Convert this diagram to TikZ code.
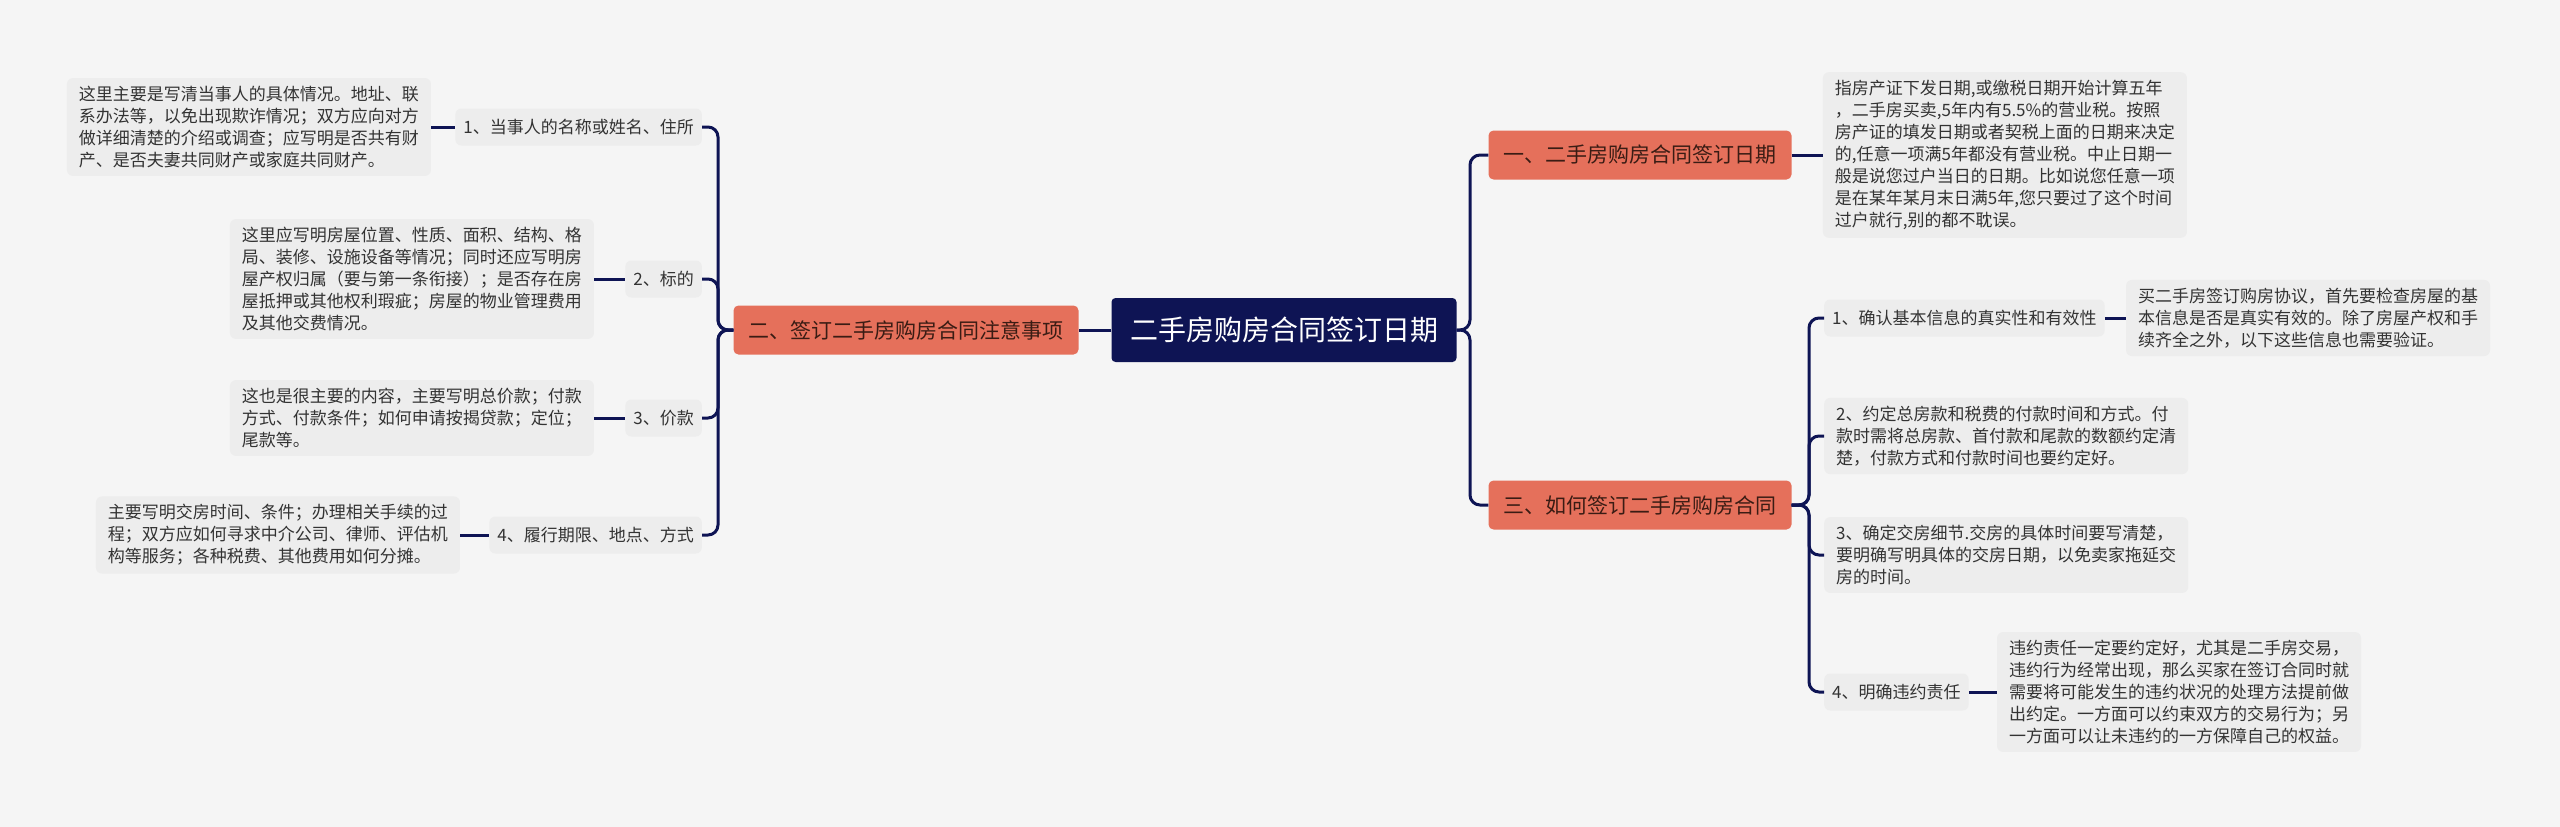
\documentclass[tikz,border=0pt]{standalone}
\usepackage{fontspec}
\setmainfont{Noto Sans CJK SC}
\usepackage{xcolor}
\usepackage{tikz}
\usetikzlibrary{positioning, calc}
\definecolor{mapnavy}{RGB}{14, 20, 84}
\definecolor{mapcoral}{RGB}{229, 112, 91}
\definecolor{coralink}{RGB}{58, 28, 20}
\definecolor{mapbg}{RGB}{245, 245, 245}
\definecolor{leafgray}{RGB}{237, 237, 237}
\definecolor{inkgray}{RGB}{51, 51, 51}

\begin{document}
\begin{tikzpicture}[
    x=1pt, y=-1pt,
    rootbox/.style={rectangle, fill=mapnavy, text=white, rounded corners=4pt, minimum width=345pt, minimum height=64pt, inner sep=0pt, font=\fontsize{28}{32}\selectfont},
    mainbox/.style={rectangle, fill=mapcoral, text=coralink, rounded corners=5pt, minimum height=49pt, inner xsep=15pt, inner ysep=0pt, font=\fontsize{21}{24}\selectfont},
    subbox/.style={rectangle, fill=leafgray, text=inkgray, rounded corners=6pt, minimum height=37pt, inner xsep=8pt, inner ysep=0pt, font=\fontsize{17}{22}\selectfont},
    leafbox/.style={rectangle, fill=leafgray, text=inkgray, rounded corners=6pt, inner xsep=12pt, inner ysep=8pt, align=left, font=\fontsize{17}{22}\selectfont},
    link/.style={draw=mapnavy, line width=3pt, rounded corners=10pt}
  ]
  % Background
  \fill[mapbg] (0,0) rectangle (2560,827);
  \useasboundingbox (0,0) rectangle (2560,827);

  % Central topic
  \node[rootbox] (root) at (1284,330) {二手房购房合同签订日期};

  % Left branch
  \node[mainbox] (notes) at (906,330) {二、签订二手房购房合同注意事项};
  \node[subbox, anchor=east] (party) at (702,127) {1、当事人的名称或姓名、住所};
  \node[subbox, anchor=east] (subject) at (702,279) {2、标的};
  \node[subbox, anchor=east] (price) at (702,418) {3、价款};
  \node[subbox, anchor=east] (term) at (702,535) {4、履行期限、地点、方式};

  \node[leafbox, left=24pt of party] (partytxt) {这里主要是写清当事人的具体情况。地址、联\\系办法等，以免出现欺诈情况；双方应向对方\\做详细清楚的介绍或调查；应写明是否共有财\\产、是否夫妻共同财产或家庭共同财产。};
  \node[leafbox, left=31pt of subject] (subjecttxt) {这里应写明房屋位置、性质、面积、结构、格\\局、装修、设施设备等情况；同时还应写明房\\屋产权归属（要与第一条衔接）；是否存在房\\屋抵押或其他权利瑕疵；房屋的物业管理费用\\及其他交费情况。};
  \node[leafbox, left=31pt of price] (pricetxt) {这也是很主要的内容，主要写明总价款；付款\\方式、付款条件；如何申请按揭贷款；定位；\\尾款等。};
  \node[leafbox, left=29pt of term] (termtxt) {主要写明交房时间、条件；办理相关手续的过\\程；双方应如何寻求中介公司、律师、评估机\\构等服务；各种税费、其他费用如何分摊。};

  % Right branch
  \node[mainbox] (date) at (1640,155) {一、二手房购房合同签订日期};
  \node[mainbox] (howto) at (1640,505) {三、如何签订二手房购房合同};

  \node[leafbox, right=31pt of date] (datetxt) {指房产证下发日期,或缴税日期开始计算五年\\，二手房买卖,5年内有5.5\%的营业税。按照\\房产证的填发日期或者契税上面的日期来决定\\的,任意一项满5年都没有营业税。中止日期一\\般是说您过户当日的日期。比如说您任意一项\\是在某年某月末日满5年,您只要过了这个时间\\过户就行,别的都不耽误。};

  \node[subbox, anchor=west] (verify) at (1824,318) {1、确认基本信息的真实性和有效性};
  \node[leafbox, anchor=west] (payment) at (1824,436) {2、约定总房款和税费的付款时间和方式。付\\款时需将总房款、首付款和尾款的数额约定清\\楚，付款方式和付款时间也要约定好。};
  \node[leafbox, anchor=west] (handover) at (1824,555) {3、确定交房细节.交房的具体时间要写清楚，\\要明确写明具体的交房日期，以免卖家拖延交\\房的时间。};
  \node[subbox, anchor=west] (breach) at (1824,692) {4、明确违约责任};

  \node[leafbox, right=21pt of verify] (verifytxt) {买二手房签订购房协议，首先要检查房屋的基\\本信息是否是真实有效的。除了房屋产权和手\\续齐全之外，以下这些信息也需要验证。};
  \node[leafbox, right=28pt of breach] (breachtxt) {违约责任一定要约定好，尤其是二手房交易，\\违约行为经常出现，那么买家在签订合同时就\\需要将可能发生的违约状况的处理方法提前做\\出约定。一方面可以约束双方的交易行为；另\\一方面可以让未违约的一方保障自己的权益。};

  % Connectors
  \coordinate (ljoint) at (718,330);
  \coordinate (rjoint) at (1470,330);
  \coordinate (sjoint) at (1809,505);

  \draw[link] (root.west) -- (notes.east);
  \foreach \kid in {party, subject, price, term}
    \draw[link] (notes.west) -- (ljoint) |- (\kid.east);
  \draw[link] (partytxt.east) -- (party.west);
  \draw[link] (subjecttxt.east) -- (subject.west);
  \draw[link] (pricetxt.east) -- (price.west);
  \draw[link] (termtxt.east) -- (term.west);

  \foreach \kid in {date, howto}
    \draw[link] (root.east) -- (rjoint) |- (\kid.west);
  \draw[link] (date.east) -- (datetxt.west);

  \foreach \kid in {verify, payment, handover, breach}
    \draw[link] (howto.east) -- (sjoint) |- (\kid.west);
  \draw[link] (verify.east) -- (verifytxt.west);
  \draw[link] (breach.east) -- (breachtxt.west);
\end{tikzpicture}
\end{document}
